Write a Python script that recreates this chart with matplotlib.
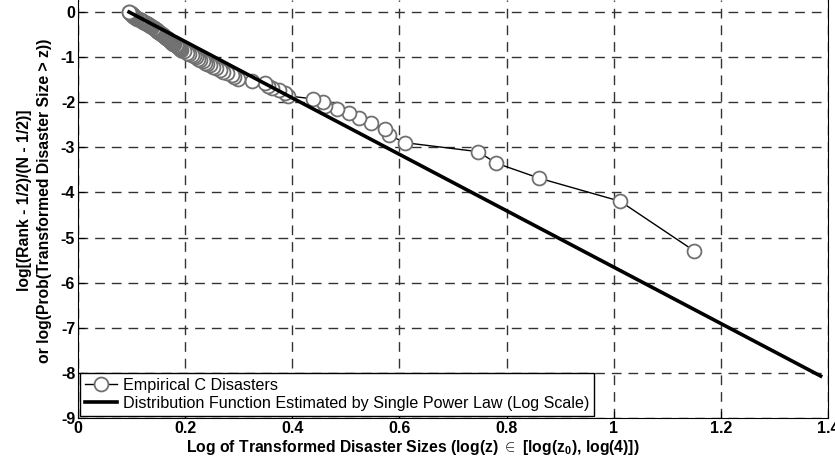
import numpy as np
import matplotlib
matplotlib.use('Agg')
import matplotlib.pyplot as plt

# --- data ---
# empirical points, largest disaster first (rank 1 .. 100)
emp_x = [1.150, 1.012, 0.861, 0.780, 0.747, 0.610, 0.581, 0.573, 0.546, 0.525,
         0.505, 0.483, 0.461, 0.457, 0.439, 0.392, 0.386, 0.376, 0.362, 0.355,
         0.349, 0.324, 0.299, 0.292, 0.287, 0.278, 0.270, 0.265, 0.258, 0.252,
         0.246, 0.241, 0.237, 0.233, 0.228, 0.224, 0.220, 0.216, 0.212, 0.207,
         0.203, 0.198, 0.193, 0.190, 0.188, 0.186, 0.184, 0.182, 0.180, 0.178,
         0.176, 0.174, 0.172, 0.170, 0.168, 0.166, 0.164, 0.162, 0.160, 0.158,
         0.156, 0.154, 0.153, 0.151, 0.150, 0.148, 0.147, 0.145, 0.144, 0.142,
         0.141, 0.139, 0.137, 0.135, 0.133, 0.131, 0.129, 0.127, 0.125, 0.123,
         0.121, 0.119, 0.117, 0.115, 0.113, 0.111, 0.109, 0.108, 0.106, 0.105,
         0.104, 0.103, 0.102, 0.101, 0.100, 0.099, 0.098, 0.097, 0.096, 0.0953]
emp_y = [-5.293, -4.195, -3.684, -3.347, -3.096, -2.896, -2.728, -2.585, -2.460, -2.349,
         -2.249, -2.158, -2.075, -1.998, -1.926, -1.859, -1.797, -1.738, -1.682, -1.630,
         -1.580, -1.532, -1.487, -1.443, -1.402, -1.362, -1.323, -1.286, -1.250, -1.216,
         -1.183, -1.150, -1.119, -1.089, -1.059, -1.031, -1.003, -0.976, -0.950, -0.924,
         -0.899, -0.875, -0.851, -0.827, -0.805, -0.783, -0.761, -0.740, -0.719, -0.698,
         -0.678, -0.659, -0.639, -0.621, -0.602, -0.584, -0.566, -0.548, -0.531, -0.514,
         -0.498, -0.481, -0.465, -0.449, -0.434, -0.418, -0.403, -0.388, -0.373, -0.359,
         -0.345, -0.331, -0.317, -0.303, -0.289, -0.276, -0.263, -0.250, -0.237, -0.224,
         -0.212, -0.200, -0.187, -0.175, -0.163, -0.152, -0.140, -0.129, -0.117, -0.106,
         -0.095, -0.084, -0.073, -0.062, -0.052, -0.041, -0.031, -0.020, -0.010, 0.000]

# single power law fit, from log(z0) to log(4)
fit_x = [0.0953, 1.3863]
fit_y = [0.0, -8.07]

x_ticks = [0, 0.2, 0.4, 0.6, 0.8, 1.0, 1.2, 1.4]
x_tick_labels = ['0', '0.2', '0.4', '0.6', '0.8', '1', '1.2', '1.4']
y_ticks = [0, -1, -2, -3, -4, -5, -6, -7, -8, -9]

plt.rcParams['font.family'] = ['Liberation Sans', 'DejaVu Sans']
plt.rcParams['axes.unicode_minus'] = False
plt.rcParams['mathtext.fontset'] = 'custom'
plt.rcParams['mathtext.rm'] = 'Liberation Sans:bold'
plt.rcParams['mathtext.it'] = 'Liberation Sans:bold'
plt.rcParams['mathtext.bf'] = 'Liberation Sans:bold'
plt.rcParams['mathtext.default'] = 'rm'

fig = plt.figure(figsize=(8.35, 4.63), dpi=100)
ax = fig.add_axes([78 / 835, 1 - 418 / 463, 750 / 835, 418 / 463])

ax.plot(emp_x, emp_y, color='black', lw=1.0, marker='o', ms=10,
        mfc='white', mec='#707070', mew=1.3, label='Empirical C Disasters', zorder=3)
ax.plot(fit_x, fit_y, color='black', lw=2.6,
        label='Distribution Function Estimated by Single Power Law (Log Scale)', zorder=4)

ax.set_xlim(0, 1.4)
ax.set_ylim(-9, 12 / 45)
ax.set_xticks(x_ticks)
ax.set_xticklabels(x_tick_labels)
ax.set_yticks(y_ticks)
ax.grid(True, color='#333333', ls=(0, (7, 5)), lw=1.0)
ax.tick_params(direction='in', length=5, labelsize=11.5, pad=2)
for lab in ax.get_xticklabels() + ax.get_yticklabels():
    lab.set_fontweight('bold')
ax.spines['top'].set_visible(False)

ax.set_xlabel(r'Log of Transformed Disaster Sizes (log(z) $\in$ [log(z$_0$), log(4)])',
              fontsize=11.3, fontweight='bold')
ax.xaxis.set_label_coords(0.447, -0.047)
ax.set_ylabel('log[(Rank - 1/2)/(N - 1/2)]\nor log(Prob(Transformed Disaster Size > z))',
              fontsize=11.3, fontweight='bold', linespacing=1.45)
ax.yaxis.set_label_coords(-0.034, 0.52)

leg = ax.legend(loc='lower left', borderaxespad=0.15, fontsize=11.6, frameon=True,
                fancybox=False, edgecolor='black', framealpha=1, handlelength=2.0,
                handletextpad=0.35, borderpad=0.3, labelspacing=0.2)
leg.get_frame().set_linewidth(1.0)

fig.savefig('out.png', dpi=100)
